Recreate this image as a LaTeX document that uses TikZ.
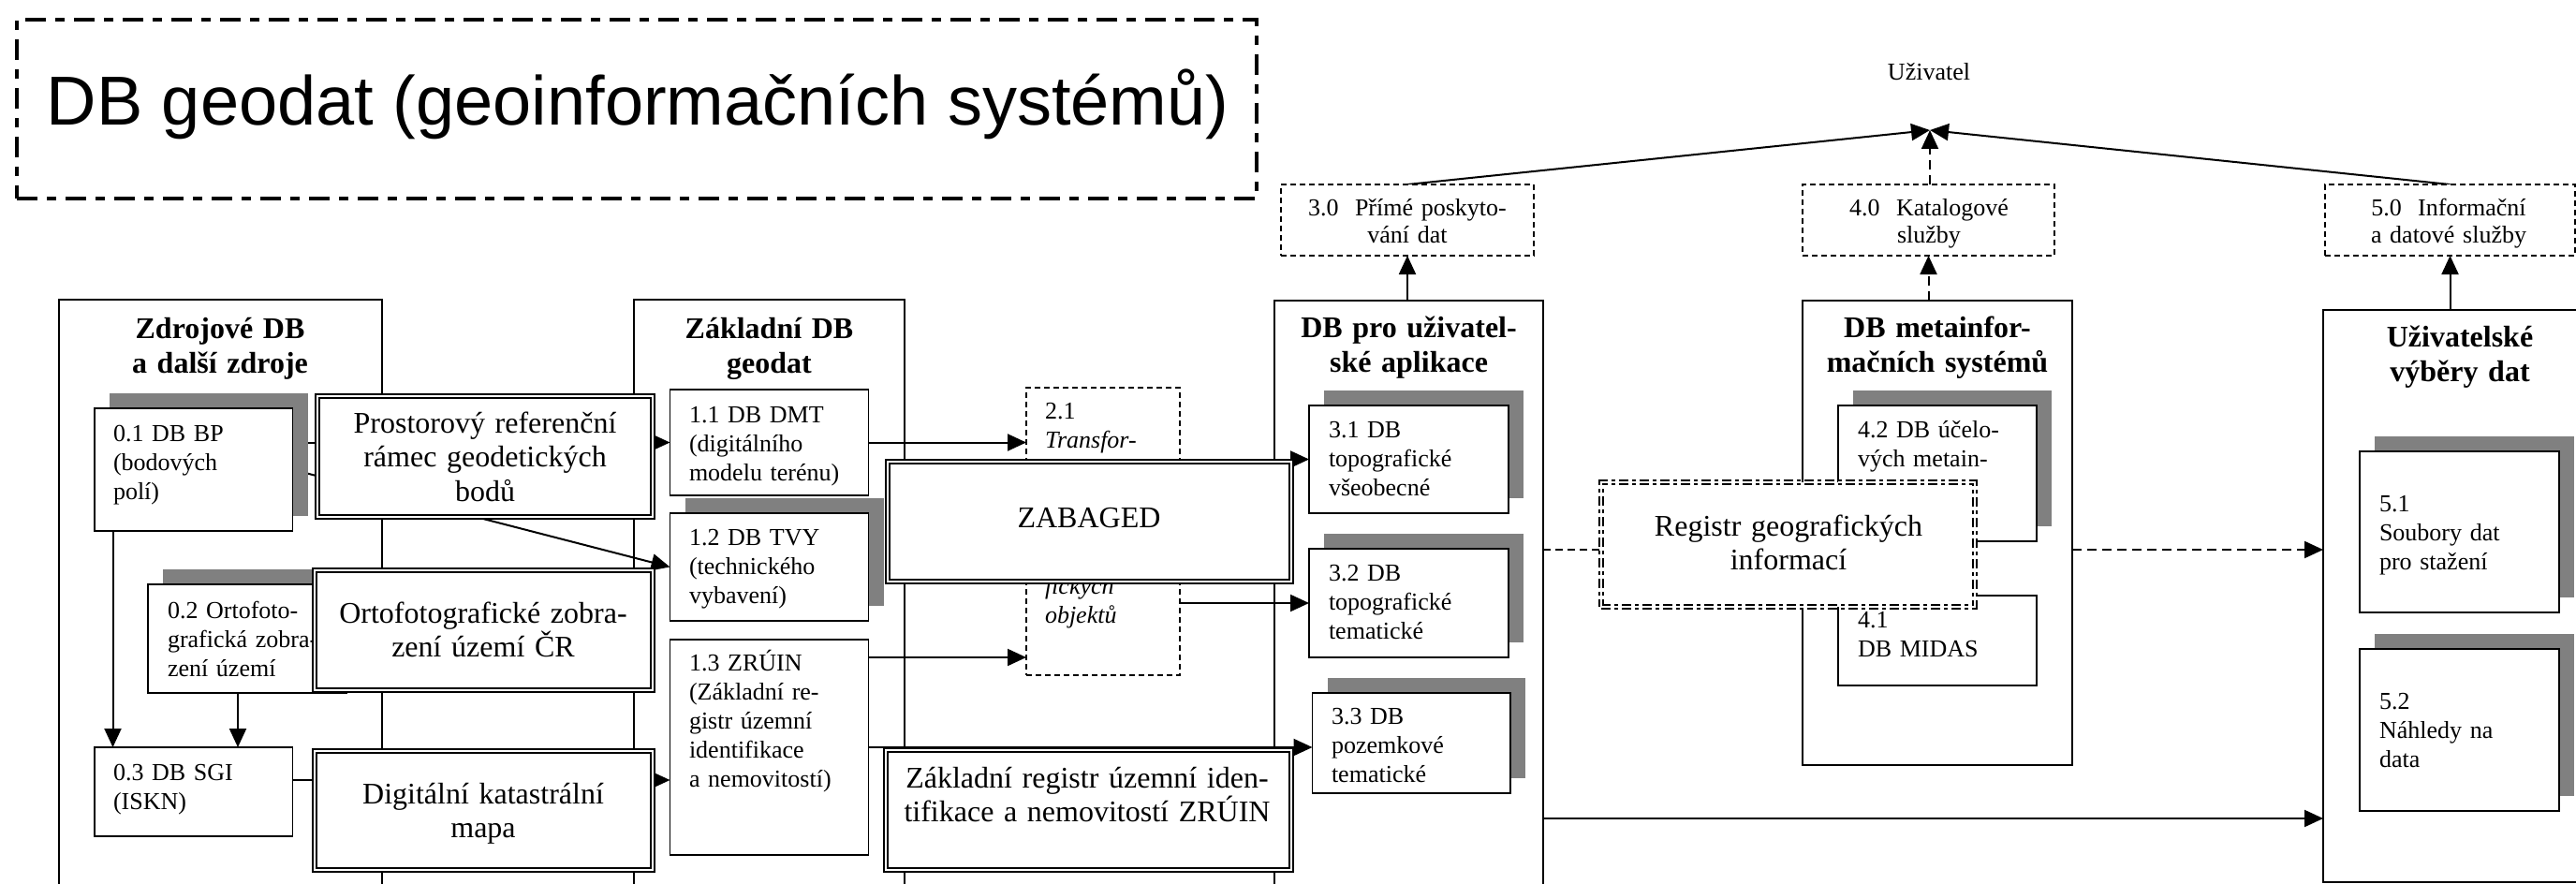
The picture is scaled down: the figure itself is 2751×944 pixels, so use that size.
\documentclass[tikz,border=0pt]{standalone}
\usepackage{fontspec}
\setmainfont{Liberation Serif}
\newfontfamily\arialfont{Liberation Sans}
\usetikzlibrary{arrows.meta,shadows}
\pgfdeclarelayer{edges}
\pgfsetlayers{edges,main}
\begin{document}
\begin{tikzpicture}[x=1pt,y=-1pt,
  every node/.style={inner sep=0pt,outer sep=0pt},
  colbox/.style={draw,line width=2pt,anchor=north west},
  box/.style={draw,line width=1.8pt,fill=white,anchor=north west},
  shbox/.style={box,drop shadow={shadow xshift=16pt,shadow yshift=16pt,fill=black!50,opacity=1}},
  dashbox/.style={box,line width=1.5pt,dash pattern=on 6pt off 4pt},
  dblbox/.style={draw,line width=1.8pt,double=white,double distance=2.6pt,fill=white,anchor=north west},
  regbox/.style={draw,line width=1.9pt,double=white,double distance=2.6pt,dash pattern=on 10pt off 4pt on 4pt off 4pt,fill=white,anchor=north west},
  body/.style={font=\fontsize{26}{31}\selectfont,text width=180pt,align=left,anchor=base west},
  big/.style={font=\fontsize{32}{36.5}\selectfont,align=center,anchor=base},
  head/.style={font=\bfseries\fontsize{32}{37}\selectfont,align=center,anchor=base},
  svctxt/.style={font=\fontsize{26}{29}\selectfont,text width=250pt,align=center,anchor=base},
  arr/.style={line width=2pt,-{Triangle[length=20pt,width=18pt]}},
  darr/.style={arr,dash pattern=on 10pt off 6pt},
  dline/.style={line width=2pt,dash pattern=on 8pt off 5pt},
]
\useasboundingbox (0,0) rectangle (2751,944);
\clip (0,0) rectangle (2751,944);

% title
\node[draw,line width=4.5pt,dash pattern=on 22pt off 10pt on 10pt off 10pt,anchor=north west,minimum width=1324pt,minimum height=191pt] (tb) at (18,21) {};
\node[font=\arialfont\fontsize{74}{80}\selectfont,anchor=base] (ttl) at (681,134) {DB geodat (geoinformačních systémů)};

% user
\node[font=\fontsize{26}{29}\selectfont,anchor=base] (uz) at (2060,86) {Uživatel};
\coordinate (P) at (2061,139);

% service boxes
\node[dashbox,minimum width=270pt,minimum height=76pt] (s30) at (1368,197) {};
\node[dashbox,minimum width=269pt,minimum height=76pt] (s40) at (1925,197) {};
\node[dashbox,minimum width=267pt,minimum height=76pt] (s50) at (2483,197) {};
\node[svctxt] (t30) at (1503,230) {3.0~~Přímé poskyto-\\vání dat};
\node[svctxt] (t40) at (2060,230) {4.0~~Katalogové\\služby};
\node[svctxt] (t50) at (2615,230) {5.0~~Informační\\a datové služby};

% columns
\node[colbox,minimum width=345pt,minimum height=700pt] (c0) at (62.5,320) {};
\node[colbox,minimum width=289pt,minimum height=700pt] (c1) at (677,320) {};
\node[colbox,minimum width=287pt,minimum height=700pt] (c3) at (1361,321) {};
\node[colbox,minimum width=288pt,minimum height=496pt] (cm) at (1925,321) {};
\node[colbox,minimum width=320pt,minimum height=611pt] (cu) at (2481,331) {};
\node[head,text width=330pt] (h0) at (235,361) {Zdrojové DB\\a další zdroje};
\node[head,text width=280pt] (h1) at (821.5,361) {Základní DB\\geodat};
\node[head,text width=280pt] (h3) at (1504.5,360) {DB pro uživatel-\\ské aplikace};
\node[head,text width=280pt] (hm) at (2069,360) {DB metainfor-\\mačních systémů};
\node[head,text width=250pt] (hu) at (2627,370) {Uživatelské\\výběry dat};

% small boxes
\node[shbox,minimum width=211.5pt,minimum height=131pt] (b01) at (101,436) {};
\node[shbox,minimum width=212pt,minimum height=116pt] (b02) at (158,624) {};
\node[box,minimum width=211.5pt,minimum height=95pt] (b03) at (101,798) {};
\node[box,minimum width=212pt,minimum height=113pt] (b11) at (715.5,416) {};
\node[shbox,minimum width=212pt,minimum height=115pt] (b12) at (715.5,548) {};
\node[box,minimum width=212pt,minimum height=230pt] (b13) at (715.5,683) {};
\node[dashbox,minimum width=164pt,minimum height=307pt] (b21) at (1096,414) {};
\node[shbox,minimum width=213pt,minimum height=115pt] (b31) at (1398,433) {};
\node[shbox,minimum width=213pt,minimum height=116pt] (b32) at (1398,586) {};
\node[shbox,minimum width=211.5pt,minimum height=107pt] (b33) at (1401.5,740) {};
\node[shbox,minimum width=212pt,minimum height=145pt] (b42) at (1963,433) {};
\node[box,minimum width=212pt,minimum height=96pt] (b41) at (1963,636) {};
\node[shbox,minimum width=213pt,minimum height=172pt] (b51) at (2520,482) {};
\node[shbox,minimum width=213pt,minimum height=173pt] (b52) at (2520,693) {};

\node[body] (t01) at (121,471) {0.1 DB BP\\(bodových\\polí)};
\node[body] (t02) at (179,660) {0.2 Ortofoto-\\grafická zobra-\\zení území};
\node[body] (t03) at (121,833) {0.3 DB SGI\\(ISKN)};
\node[body] (t11) at (736,451) {1.1 DB DMT\\(digitálního\\modelu terénu)};
\node[body] (t12) at (736,582) {1.2 DB TVY\\(technického\\vybavení)};
\node[body] (t13) at (736,716) {1.3 ZRÚIN\\(Základní re-\\gistr územní\\identifikace\\a nemovitostí)};
\node[body,text width=140pt] (t21a) at (1116,447) {2.1\\\textit{Transfor-}};
\node[body,text width=140pt] (t21b) at (1116,634) {\textit{fických}\\\textit{objektů}};
\node[body] (t31) at (1419,467) {3.1 DB\\topografické\\všeobecné};
\node[body] (t32) at (1419,620) {3.2 DB\\topografické\\tematické};
\node[body] (t33) at (1422,773) {3.3 DB\\pozemkové\\tematické};
\node[body] (t42) at (1984,467) {4.2 DB účelo-\\vých metain-};
\node[body] (t41) at (1984,670) {4.1\\DB MIDAS};
\node[body] (t51) at (2541,546) {5.1\\Soubory dat\\pro stažení};
\node[body] (t52) at (2541,757) {5.2\\Náhledy na\\data};

% register and double boxes
\node[regbox,minimum width=399pt,minimum height=133pt] (rg) at (1710,515) {};
\node[big,text width=385pt] (trg) at (1910,572) {Registr geografických\\informací};

\node[dblbox,minimum width=358pt,minimum height=129pt] (dp) at (339,423) {};
\node[dblbox,minimum width=361pt,minimum height=128pt] (do) at (336,609) {};
\node[dblbox,minimum width=361pt,minimum height=127pt] (dd) at (336,802) {};
\node[dblbox,minimum width=431pt,minimum height=128pt] (dz) at (948,493) {};
\node[dblbox,minimum width=433pt,minimum height=128pt] (dr) at (946,801) {};
\node[big,text width=345pt] (tp) at (518,462) {Prostorový referenční\\rámec geodetických\\bodů};
\node[big,text width=350pt] (to) at (516,665) {Ortofotografické zobra-\\zení území ČR};
\node[big,text width=350pt] (td) at (516,858) {Digitální katastrální\\mapa};
\node[big,text width=420pt] (tz) at (1163,563) {ZABAGED};
\node[big,text width=420pt] (tr) at (1161,841) {Základní registr územní iden-\\tifikace a nemovitostí ZRÚIN};

% connectors
\begin{pgfonlayer}{edges}
\draw[arr] (s30.north) -- (P);
\draw[darr] (s40.north -| P) -- (P);
\draw[arr] (s50.north) -- (P);
\draw[arr] (s30.south |- c3.north) -- (s30.south);
\draw[darr] (s40.south |- cm.north) -- (s40.south);
\draw[arr] (s50.south |- cu.north) -- (s50.south);
\draw[arr] (b01.east |- b11.west) -- (b11.west);
\draw[arr] (b01.east) -- (b12.west);
\draw[arr] ([xshift=19.5pt]b01.south west) coordinate (e1) -- (e1 |- b03.north);
\draw[arr] ([xshift=96pt]b02.south west) coordinate (e2) -- (e2 |- b03.north);
\draw[arr] ([yshift=-35pt]b03.north east) coordinate (e3) -- (e3 -| b13.west);
\draw[arr] (b11.east) -- (b11.east -| b21.west);
\draw[arr] ([yshift=-19pt]b13.north east) coordinate (e4) -- (e4 -| b21.west);
\draw[arr] ([yshift=-115pt]b13.north east) coordinate (e5) -- (e5 -| b33.west);
\draw[arr] (b21.east |- b31.west) -- (b31.west);
\draw[arr] (b21.east |- b32.west) -- (b32.west);
\draw[dline] ([yshift=-266pt]c3.north east) coordinate (e6) -- (e6 -| rg.west);
\draw[darr] (cm.east |- e6) -- (e6 -| cu.west);
\draw[arr] ([yshift=-553pt]c3.north east) coordinate (e7) -- (e7 -| cu.west);
\end{pgfonlayer}
\end{tikzpicture}
\end{document}
